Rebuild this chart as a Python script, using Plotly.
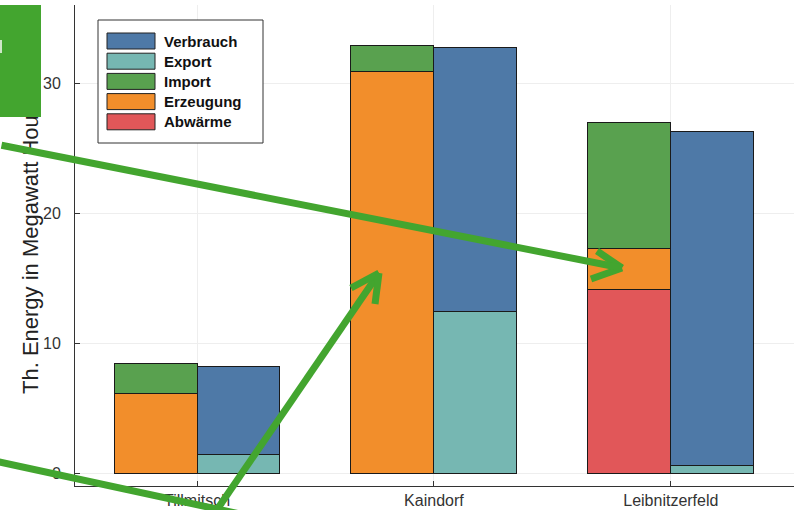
import plotly.graph_objects as go

categories = ["Tillmitsch", "Kaindorf", "Leibnitzerfeld"]
abwaerme = [0.0, 0.0, 14.1]
erzeugung = [6.15, 30.85, 3.15]
import_ = [2.25, 2.0, 9.7]
export = [1.4, 12.45, 0.55]
verbrauch = [6.8, 20.3, 25.75]

series_names = ["Abwärme", "Erzeugung", "Import", "Export", "Verbrauch"]
legend_order = ["Verbrauch", "Export", "Import", "Erzeugung", "Abwärme"]
colors = {
    "Verbrauch": "#4e79a7",
    "Export": "#76b7b2",
    "Import": "#59a14f",
    "Erzeugung": "#f28e2b",
    "Abwärme": "#e15759",
}
y_title = "Th. Energy in Megawatt Hours"

W, H = 798, 510
ML, MR, MT, MB = 75, 4, 5, 24
PW, PH = W - ML - MR, H - MT - MB
bw = 0.35
idx = list(range(len(categories)))
left_x = [i - bw / 2 for i in idx]
right_x = [i + bw / 2 for i in idx]
FONT = "Liberation Sans, Arial, sans-serif"
green = "#43a52f"

fig = go.Figure()
for name, vals, xs in [
    ("Abwärme", abwaerme, left_x),
    ("Erzeugung", erzeugung, left_x),
    ("Import", import_, left_x),
    ("Export", export, right_x),
    ("Verbrauch", verbrauch, right_x),
]:
    fig.add_trace(go.Bar(
        x=xs, y=vals, name=name, width=bw,
        marker=dict(color=colors[name], line=dict(color="#1a1a1a", width=1)),
    ))


def px(x, y):
    return (x - ML) / PW, (H - MB - y) / PH


def seg(p0, p1):
    x0, y0 = px(*p0)
    x1, y1 = px(*p1)
    return dict(type="line", xref="paper", yref="paper", x0=x0, y0=y0, x1=x1, y1=y1,
                line=dict(color=green, width=7), layer="above")


def rect(x0p, y0p, x1p, y1p, fill, lc=None, lw=0):
    a = px(x0p, y1p)
    b = px(x1p, y0p)
    return dict(type="rect", xref="paper", yref="paper", x0=a[0], y0=a[1], x1=b[0], y1=b[1],
                fillcolor=fill, line=dict(color=lc or fill, width=lw), layer="above")


shapes = []
annotations = []

# manual legend
shapes.append(rect(98, 20, 263, 143, "white", "#333333", 1))
for i, name in enumerate(legend_order):
    top = 33 + i * 20.2
    shapes.append(rect(107, top, 155, top + 16, colors[name], "#222222", 1))
    tx, ty = px(162, top + 8)
    annotations.append(dict(text=name, x=tx, y=ty, xref="paper", yref="paper",
                            xanchor="left", yanchor="middle", showarrow=False,
                            font=dict(family=FONT, size=15, color="#111111", weight="bold")))

# y axis title (as annotation so the overlay can sit on top of it)
tx, ty = px(30, 246)
annotations.append(dict(text=y_title, x=tx, y=ty, xref="paper", yref="paper", textangle=-90,
                        xanchor="center", yanchor="middle", showarrow=False,
                        font=dict(family=FONT, size=22, color="#222222")))

# green box overlay top-left
bx, by = px(0, 5)
annotations.append(dict(text=" ", x=bx, y=by, xref="paper", yref="paper", xanchor="left",
                        yanchor="top", showarrow=False, width=41, height=112, bgcolor=green,
                        borderpad=0, borderwidth=0))
mx, my = px(0, 40)
annotations.append(dict(text=" ", x=mx, y=my, xref="paper", yref="paper", xanchor="left",
                        yanchor="top", showarrow=False, width=2, height=13, bgcolor="#cfe6c8",
                        borderpad=0, borderwidth=0))

# arrow A main stroke (annotation so it crosses over the title)
tipA = (622, 268)
startA = (-8, 145)
ax_, ay_ = px(*tipA)
annotations.append(dict(text="", x=ax_, y=ay_, xref="paper", yref="paper", showarrow=True,
                        arrowhead=0, arrowwidth=7, arrowcolor=green, standoff=0, startstandoff=0,
                        axref="pixel", ayref="pixel", ax=startA[0] - tipA[0], ay=startA[1] - tipA[1]))
shapes += [seg(tipA, (597, 251)), seg(tipA, (591, 279))]
# arrow B
shapes += [seg((214, 514), (379, 273)), seg((379, 273), (351, 288)), seg((379, 273), (375, 304))]
# line C
shapes += [seg((-5, 461), (240, 514))]

fig.update_layout(
    width=W, height=H,
    margin=dict(l=ML, r=MR, t=MT, b=MB, pad=0, autoexpand=False),
    barmode="stack",
    plot_bgcolor="white", paper_bgcolor="white",
    font=dict(family=FONT, color="#333333", size=16),
    showlegend=False,
    shapes=shapes,
    annotations=annotations,
)
fig.update_xaxes(
    range=[-0.515, 2.52], tickmode="array", tickvals=idx, ticktext=categories,
    showline=True, linecolor="#333333", linewidth=1, ticks="inside", ticklen=5,
    tickcolor="#333333", showgrid=True, gridcolor="#eeeeee", gridwidth=1, zeroline=False,
    tickfont=dict(family=FONT, size=16, color="#333333"), automargin=False,
)
fig.update_yaxes(
    range=[-1.0, 36.0], tickmode="array", tickvals=[0, 10, 20, 30],
    showline=True, linecolor="#333333", linewidth=1, ticks="inside", ticklen=5,
    tickcolor="#333333", showgrid=True, gridcolor="#eeeeee", gridwidth=1, zeroline=False,
    tickfont=dict(family=FONT, size=16, color="#333333"), ticklabelstandoff=10, automargin=False,
)
fig.write_html("out.html")
